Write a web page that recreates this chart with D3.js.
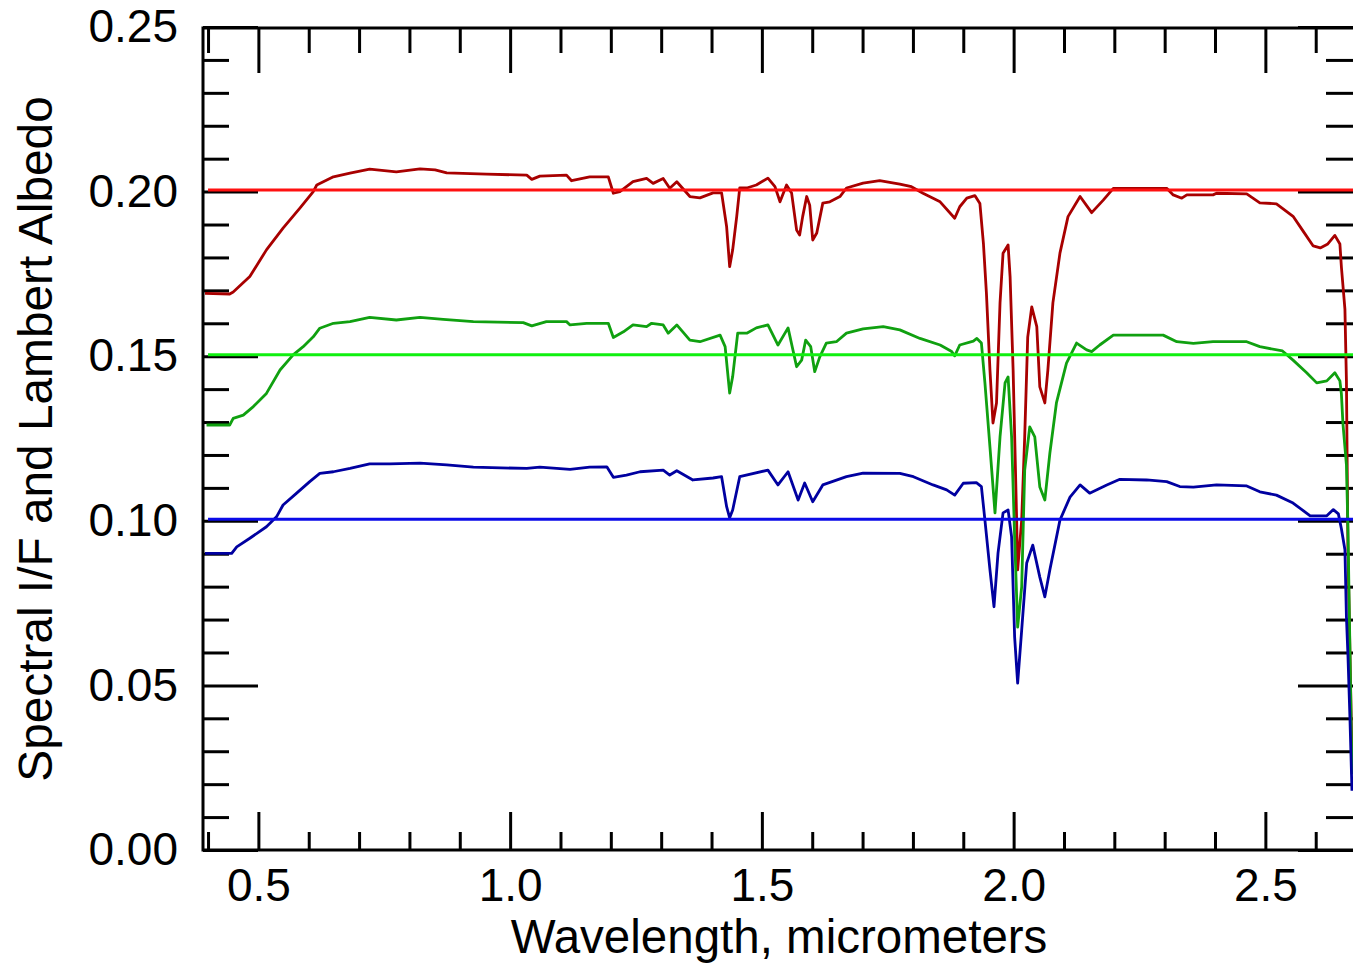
<!DOCTYPE html>
<html>
<head>
<meta charset="utf-8">
<script src="https://cdn.jsdelivr.net/npm/d3@7"></script>
<style>
  html, body { margin: 0; padding: 0; background: #fff; overflow: hidden; }
  svg { display: block; }
</style>
</head>
<body>
<svg id="chart" width="1353" height="966"></svg>
<script>
// ---------- data ----------
const redWl = [0.394,0.443,0.450,0.483,0.516,0.549,0.582,0.609,0.616,0.649,0.682,0.721,0.774,0.821,0.851,0.874,0.953,1.033,1.043,1.059,1.112,1.122,1.158,1.195,1.205,1.218,1.244,1.271,1.284,1.304,1.317,1.331,1.357,1.377,1.403,1.420,1.430,1.436,1.442,1.450,1.456,1.470,1.489,1.512,1.526,1.536,1.549,1.559,1.569,1.575,1.581,1.589,1.595,1.601,1.609,1.621,1.635,1.655,1.668,1.701,1.734,1.774,1.797,1.820,1.854,1.883,1.893,1.907,1.923,1.933,1.940,1.946,1.953,1.959,1.966,1.973,1.979,1.989,1.993,1.999,2.006,2.008,2.016,2.022,2.028,2.036,2.046,2.052,2.062,2.068,2.078,2.092,2.108,2.132,2.155,2.178,2.198,2.304,2.317,2.334,2.344,2.396,2.403,2.463,2.489,2.522,2.555,2.575,2.595,2.609,2.624,2.638,2.648,2.651,2.658,2.661,2.664,2.672];
const redVal = [0.1691,0.1689,0.1695,0.1742,0.1823,0.1889,0.1949,0.2000,0.2020,0.2045,0.2056,0.2068,0.2060,0.2069,0.2066,0.2057,0.2053,0.2050,0.2037,0.2047,0.2050,0.2033,0.2045,0.2045,0.1995,0.2000,0.2030,0.2040,0.2025,0.2040,0.2010,0.2030,0.1985,0.1981,0.1996,0.1996,0.1893,0.1772,0.1823,0.1924,0.2011,0.2011,0.2020,0.2041,0.2015,0.1969,0.2020,0.1996,0.1883,0.1868,0.1924,0.1985,0.1959,0.1853,0.1874,0.1965,0.1969,0.1985,0.2011,0.2026,0.2033,0.2023,0.2015,0.1995,0.1969,0.1919,0.1954,0.1980,0.1988,0.1964,0.1843,0.1691,0.1458,0.1297,0.1358,0.1662,0.1813,0.1838,0.1741,0.1458,0.1002,0.0851,0.1002,0.1255,0.1558,0.1650,0.1590,0.1407,0.1358,0.1458,0.1662,0.1813,0.1924,0.1985,0.1936,0.1974,0.2010,0.2010,0.1990,0.1980,0.1990,0.1990,0.1995,0.1993,0.1966,0.1963,0.1925,0.1880,0.1835,0.1829,0.1841,0.1867,0.1841,0.1771,0.1643,0.1425,0.0911,0.0280];

const greenWl = [0.397,0.443,0.450,0.470,0.490,0.516,0.543,0.569,0.589,0.609,0.622,0.649,0.682,0.721,0.774,0.821,0.867,0.927,1.026,1.043,1.072,1.112,1.119,1.152,1.195,1.205,1.225,1.244,1.271,1.281,1.304,1.314,1.331,1.357,1.377,1.417,1.427,1.436,1.442,1.452,1.470,1.489,1.512,1.532,1.552,1.569,1.579,1.587,1.597,1.605,1.615,1.628,1.648,1.668,1.701,1.741,1.774,1.814,1.854,1.877,1.883,1.893,1.920,1.927,1.936,1.943,1.953,1.963,1.973,1.983,1.989,1.996,2.002,2.008,2.016,2.022,2.032,2.042,2.052,2.062,2.072,2.085,2.105,2.125,2.145,2.155,2.171,2.198,2.297,2.324,2.357,2.396,2.463,2.489,2.534,2.555,2.582,2.602,2.622,2.638,2.648,2.651,2.654,2.661,2.664,2.672];
const greenVal = [0.1291,0.1291,0.1311,0.1321,0.1347,0.1387,0.1458,0.1504,0.1529,0.1559,0.1585,0.1600,0.1605,0.1618,0.1610,0.1618,0.1612,0.1605,0.1602,0.1592,0.1605,0.1605,0.1595,0.1600,0.1600,0.1557,0.1574,0.1595,0.1590,0.1600,0.1595,0.1570,0.1595,0.1549,0.1544,0.1564,0.1529,0.1388,0.1438,0.1570,0.1570,0.1586,0.1595,0.1534,0.1586,0.1468,0.1488,0.1549,0.1529,0.1453,0.1498,0.1540,0.1544,0.1570,0.1583,0.1590,0.1580,0.1554,0.1534,0.1514,0.1501,0.1534,0.1546,0.1554,0.1540,0.1419,0.1224,0.1024,0.1255,0.1419,0.1437,0.1255,0.0951,0.0677,0.0799,0.1154,0.1285,0.1255,0.1103,0.1063,0.1206,0.1358,0.1479,0.1540,0.1519,0.1514,0.1534,0.1564,0.1564,0.1544,0.1539,0.1544,0.1544,0.1529,0.1516,0.1488,0.1450,0.1419,0.1425,0.1450,0.1425,0.1386,0.1297,0.1170,0.0976,0.0230];

const blueWl = [0.394,0.447,0.457,0.483,0.516,0.536,0.549,0.576,0.602,0.622,0.649,0.682,0.721,0.761,0.821,0.874,0.927,1.033,1.059,1.119,1.158,1.192,1.205,1.231,1.258,1.304,1.317,1.331,1.363,1.403,1.420,1.430,1.436,1.442,1.456,1.512,1.532,1.552,1.572,1.585,1.601,1.621,1.668,1.701,1.774,1.801,1.840,1.867,1.883,1.900,1.926,1.936,1.943,1.953,1.961,1.969,1.979,1.989,1.996,2.002,2.008,2.016,2.026,2.038,2.052,2.062,2.072,2.092,2.112,2.132,2.151,2.185,2.211,2.264,2.304,2.330,2.357,2.403,2.463,2.489,2.522,2.555,2.589,2.622,2.635,2.645,2.651,2.658,2.661,2.664,2.668,2.672];
const blueVal = [0.0901,0.0901,0.0921,0.0947,0.0982,0.1012,0.1048,0.1084,0.1119,0.1144,0.1149,0.1159,0.1173,0.1173,0.1175,0.1170,0.1163,0.1159,0.1163,0.1156,0.1163,0.1164,0.1132,0.1139,0.1149,0.1154,0.1139,0.1152,0.1124,0.1130,0.1134,0.1043,0.1009,0.1033,0.1134,0.1154,0.1109,0.1149,0.1063,0.1115,0.1058,0.1109,0.1134,0.1145,0.1144,0.1134,0.1109,0.1094,0.1078,0.1114,0.1116,0.1104,0.1002,0.0851,0.0739,0.0902,0.1024,0.1033,0.0951,0.0647,0.0507,0.0668,0.0872,0.0926,0.0829,0.0769,0.0851,0.1002,0.1072,0.1109,0.1084,0.1109,0.1126,0.1124,0.1119,0.1104,0.1102,0.1109,0.1106,0.1088,0.1078,0.1054,0.1015,0.1015,0.1034,0.1021,0.0976,0.0912,0.0708,0.0592,0.0399,0.0180];

// reference horizontal lines
const refLevels = [0.20, 0.15, 0.10];

// tick values and labels
const xMajorTicks = [0.5, 1.0, 1.5, 2.0, 2.5];
const xMinorTicks = [0.4,0.6,0.7,0.8,0.9,1.1,1.2,1.3,1.4,1.6,1.7,1.8,1.9,2.1,2.2,2.3,2.4,2.6];
const xTickLabels = ["0.5", "1.0", "1.5", "2.0", "2.5"];
const yMajorTicks = [0.00, 0.05, 0.10, 0.15, 0.20, 0.25];
const yMinorTicks = [0.01,0.02,0.03,0.04,0.06,0.07,0.08,0.09,0.11,0.12,0.13,0.14,0.16,0.17,0.18,0.19,0.21,0.22,0.23,0.24];
const yTickLabels = ["0.00", "0.05", "0.10", "0.15", "0.20", "0.25"];

const xTitle = "Wavelength, micrometers";
const yTitle = "Spectral I/F and Lambert Albedo";

// ---------- layout ----------
const L = 203, R = 1356, T = 27, B = 850;
const FONT = "'Liberation Sans', Arial, Helvetica, sans-serif";

const svg = d3.select("#chart");
const x = d3.scaleLinear().domain([0.39, 2.68]).range([L, R]);
const y = d3.scaleLinear().domain([0, 0.25]).range([B, T]);

svg.append("defs").append("clipPath").attr("id", "plotclip")
  .append("rect").attr("x", L).attr("y", T).attr("width", R - L).attr("height", B - T);

// ---------- axes (drawn first; coloured reference lines sit on top) ----------
function styleAxis(g) {
  g.select(".domain").remove();
  g.selectAll(".tick line").attr("stroke", "#000").attr("stroke-width", 3);
  g.selectAll("text").attr("font-family", FONT).attr("font-size", 46).attr("fill", "#000");
}

// bottom
svg.append("g").attr("transform", `translate(0,${B})`)
  .call(d3.axisBottom(x).tickValues(xMajorTicks).tickSizeInner(-38).tickSizeOuter(0)
    .tickPadding(18).tickFormat((d, i) => xTickLabels[i]))
  .call(styleAxis);
svg.append("g").attr("transform", `translate(0,${B})`)
  .call(d3.axisBottom(x).tickValues(xMinorTicks).tickSizeInner(-18).tickSizeOuter(0).tickFormat(""))
  .call(styleAxis);
// top
svg.append("g").attr("transform", `translate(0,${T + 1})`)
  .call(d3.axisTop(x).tickValues(xMajorTicks).tickSizeInner(-45).tickSizeOuter(0).tickFormat(""))
  .call(styleAxis);
svg.append("g").attr("transform", `translate(0,${T + 1})`)
  .call(d3.axisTop(x).tickValues(xMinorTicks).tickSizeInner(-25).tickSizeOuter(0).tickFormat(""))
  .call(styleAxis);
// left
svg.append("g").attr("transform", `translate(${L},0)`)
  .call(d3.axisLeft(y).tickValues(yMajorTicks).tickSizeInner(-55).tickSizeOuter(0)
    .tickPadding(25).tickFormat((d, i) => yTickLabels[i]))
  .call(styleAxis);
svg.append("g").attr("transform", `translate(${L},0)`)
  .call(d3.axisLeft(y).tickValues(yMinorTicks).tickSizeInner(-26).tickSizeOuter(0).tickFormat(""))
  .call(styleAxis);
// right
svg.append("g").attr("transform", `translate(${R},0)`)
  .call(d3.axisRight(y).tickValues(yMajorTicks).tickSizeInner(-58).tickSizeOuter(0).tickFormat(""))
  .call(styleAxis);
svg.append("g").attr("transform", `translate(${R},0)`)
  .call(d3.axisRight(y).tickValues(yMinorTicks).tickSizeInner(-30).tickSizeOuter(0).tickFormat(""))
  .call(styleAxis);

// ---------- curves ----------
const plot = svg.append("g").attr("clip-path", "url(#plotclip)");

const series = [
  { wl: redWl,   val: redVal,   color: "#a80000" },
  { wl: greenWl, val: greenVal, color: "#10a010" },
  { wl: blueWl,  val: blueVal,  color: "#0000a0" }
];
const line = d3.line().x(d => x(d[0])).y(d => y(d[1]));
series.forEach(s => {
  plot.append("path")
    .datum(s.wl.map((w, i) => [w, s.val[i]]))
    .attr("d", line)
    .attr("fill", "none")
    .attr("stroke", s.color)
    .attr("stroke-width", 2.8)
    .attr("stroke-linejoin", "round");
});

const refColors = ["#ff1010", "#10f010", "#0a0ae8"];
refLevels.forEach((v, i) => {
  plot.append("line")
    .attr("x1", x(0.40)).attr("x2", R)
    .attr("y1", y(v) - 1.5).attr("y2", y(v) - 1.5)
    .attr("stroke", refColors[i])
    .attr("stroke-width", 3);
});

// frame
svg.append("rect")
  .attr("x", L).attr("y", T + 1).attr("width", R - L).attr("height", B - T - 1)
  .attr("fill", "none").attr("stroke", "#000").attr("stroke-width", 3);

// titles
svg.append("text")
  .attr("x", 779).attr("y", 953)
  .attr("text-anchor", "middle")
  .attr("font-family", FONT).attr("font-size", 47.5).attr("fill", "#000")
  .text(xTitle);
svg.append("text")
  .attr("transform", "translate(52,439) rotate(-90)")
  .attr("text-anchor", "middle")
  .attr("font-family", FONT).attr("font-size", 47.8).attr("fill", "#000")
  .text(yTitle);
</script>
</body>
</html>
